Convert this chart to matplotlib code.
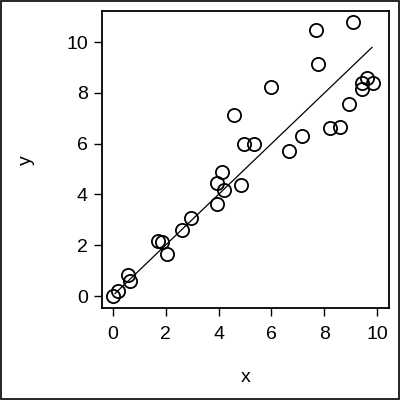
import matplotlib
matplotlib.use("Agg")
import matplotlib.pyplot as plt
import numpy as np

plt.rcParams['font.family'] = ['Liberation Sans', 'DejaVu Sans']

# values
x = [0.00, 0.21, 0.57, 0.67, 1.73, 1.85, 2.04, 2.63, 2.95, 3.95,
     3.94, 4.14, 4.22, 4.58, 4.85, 4.96, 5.33, 5.97, 6.66, 7.15,
     7.67, 7.77, 8.20, 8.58, 8.92, 9.08, 9.43, 9.41, 9.60, 9.82]
y = [0.00, 0.20, 0.85, 0.60, 2.18, 2.14, 1.67, 2.60, 3.06, 3.62,
     4.46, 4.89, 4.16, 7.11, 4.36, 5.98, 5.98, 8.24, 5.73, 6.30,
     10.47, 9.13, 6.61, 6.67, 7.56, 10.79, 8.16, 8.40, 8.57, 8.40]
fit_x = [0.09, 9.80]
fit_y = [0.10, 9.79]
xticks = [0, 2, 4, 6, 8, 10]
yticks = [0, 2, 4, 6, 8, 10]

fig = plt.figure(figsize=(4, 4), dpi=100)
fig.patches.append(plt.Rectangle((0.002, 0.002), 0.996, 0.996, transform=fig.transFigure,
                                 fill=False, edgecolor='black', linewidth=1.2))
ax = fig.add_axes([0.254, 0.229, 0.7185, 0.7435])

ax.plot(x, y, 'o', markerfacecolor='none', markeredgecolor='black',
        markersize=9.5, markeredgewidth=1.3)
ax.plot(fit_x, fit_y, color='black', linewidth=0.9)

ax.set_xlim(-0.416, 10.44)
ax.set_ylim(-0.484, 11.22)
ax.set_xticks(xticks)
ax.set_yticks(yticks)
ax.tick_params(direction='out', length=5.8, width=1.0, labelsize=14, colors='black')
ax.tick_params(axis='x', pad=7)
ax.tick_params(axis='y', pad=4)
for s in ax.spines.values():
    s.set_linewidth(1.3)

ax.set_xlabel('x', fontsize=14, va='center')
ax.xaxis.set_label_coords(0.5, -0.234)
ax.set_ylabel('y', fontsize=14, va='center')
ax.yaxis.set_label_coords(-0.26, 0.50)

fig.savefig('out.png', dpi=100)
